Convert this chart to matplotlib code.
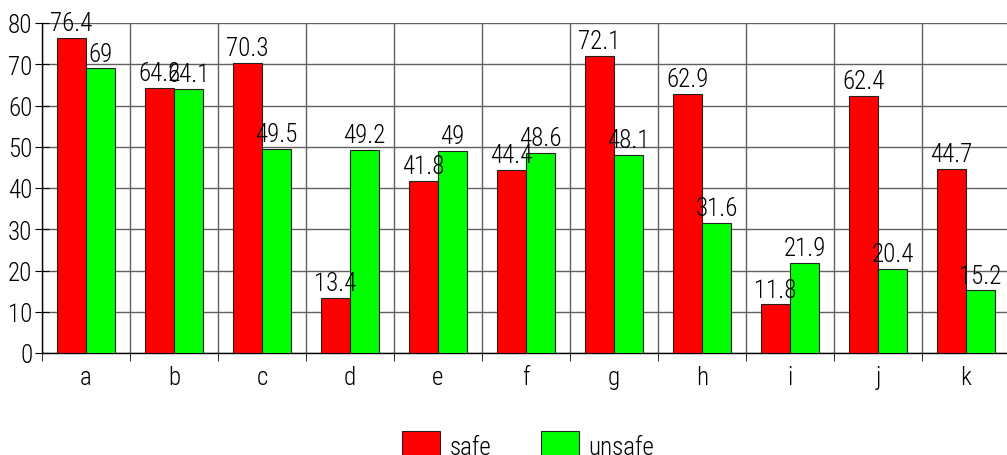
import matplotlib
matplotlib.use("Agg")
import matplotlib.pyplot as plt
import numpy as np

plt.rcParams["font.family"] = ["Roboto Condensed", "DejaVu Sans"]
plt.rcParams["font.weight"] = "light"

categories = ["a", "b", "c", "d", "e", "f", "g", "h", "i", "j", "k"]
safe = [76.4, 64.2, 70.3, 13.4, 41.8, 44.4, 72.1, 62.9, 11.8, 62.4, 44.7]
unsafe = [69, 64.1, 49.5, 49.2, 49, 48.6, 48.1, 31.6, 21.9, 20.4, 15.2]
yticks = [0, 10, 20, 30, 40, 50, 60, 70, 80]

fig = plt.figure(figsize=(10.07, 4.56), dpi=100)
ax = fig.add_axes([42 / 1007, 1 - 354 / 456, 968 / 1007, 330 / 456])

x = np.arange(len(categories))
w = 0.33
b1 = ax.bar(x - w / 2, safe, w, color="#ff0000", edgecolor="#222222", linewidth=0.8,
            label="safe", zorder=3)
b2 = ax.bar(x + w / 2, unsafe, w, color="#00ff00", edgecolor="#222222", linewidth=0.8,
            label="unsafe", zorder=3)

# value labels above each bar
for bars, vals in ((b1, safe), (b2, unsafe)):
    for bar, v in zip(bars, vals):
        ax.annotate(f"{v:g}", (bar.get_x() + bar.get_width() / 2, v),
                    xytext=(0, 2), textcoords="offset points",
                    ha="center", va="bottom", fontsize=18, zorder=4)

ax.set_xlim(-0.5, len(categories) - 0.5)
ax.set_ylim(0, 80)
ax.set_yticks(yticks)
ax.set_xticks(x)
ax.set_xticklabels(categories)
ax.set_xticks(np.arange(len(categories) + 1) - 0.5, minor=True)
ax.tick_params(axis="x", which="major", length=0, pad=9, labelsize=18)
ax.tick_params(axis="x", which="minor", length=6, direction="out", color="black")
ax.tick_params(axis="y", length=10, direction="inout", pad=2, labelsize=18, color="black")

ax.grid(True, axis="y", color="#606060", linewidth=1, zorder=1)
ax.grid(True, axis="x", which="minor", color="#606060", linewidth=1, zorder=1)
for s in ("top", "right"):
    ax.spines[s].set_visible(False)
ax.spines["left"].set_linewidth(1)
ax.spines["bottom"].set_linewidth(1)
ax.set_axisbelow(True)

fig.legend(handles=[b1, b2], loc="upper left", bbox_to_anchor=(402 / 1007, 1 - 432 / 456),
           ncol=2, frameon=False, borderpad=0, borderaxespad=0, fontsize=18,
           handlelength=1.5, handleheight=1.5, handletextpad=0.4, columnspacing=2.0)

fig.savefig("out.png", dpi=100)
